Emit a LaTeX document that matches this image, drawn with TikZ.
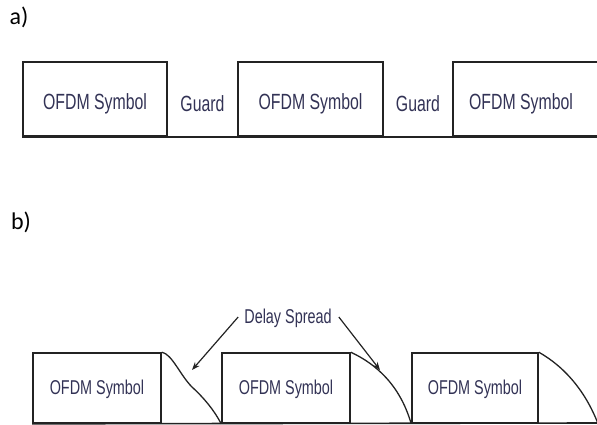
\documentclass[tikz,border=0pt]{standalone}
\usepackage{fontspec}
\setmainfont{Carlito}
\newfontfamily\narrowfont[FakeStretch=0.72]{Liberation Sans}
\usetikzlibrary{arrows.meta}
\definecolor{linec}{RGB}{35,35,35}
\definecolor{txtc}{RGB}{50,50,85}
\tikzset{
  symbox/.style={draw=linec, line width=1.6pt, inner sep=0pt},
  biglbl/.style={text=txtc, inner sep=0pt, font=\narrowfont\fontsize{22}{26}\selectfont},
  smalllbl/.style={text=txtc, inner sep=0pt, font=\narrowfont\fontsize{20}{24}\selectfont},
  partlbl/.style={inner sep=0pt, font=\fontsize{24}{28}\selectfont},
  base/.style={draw=linec, line width=1.6pt},
  tail/.style={draw=linec, line width=1.3pt},
  pointer/.style={draw=linec, line width=1.2pt, -{Stealth[length=8pt,width=6pt]}}
}
\begin{document}
\begin{tikzpicture}[x=1pt,y=-1pt]
\useasboundingbox (0,0) rectangle (597,425);
\begin{scope}
\clip (0,0) rectangle (597,425);
% part a
\node[partlbl] (la) at (19,17) {a)};
\node[symbox, minimum width=144pt, minimum height=74pt] (a1) at (95,99) {};
\node[symbox, minimum width=145pt, minimum height=74pt] (a2) at (310.5,99) {};
\node[symbox, minimum width=146pt, minimum height=74pt] (a3) at (526,99) {};
\node[biglbl] (t1) at (95,104) {OFDM Symbol};
\node[biglbl] (g1) at (202.5,104) {Guard};
\node[biglbl] (t2) at (310.5,104) {OFDM Symbol};
\node[biglbl] (g2) at (418,104) {Guard};
\node[biglbl] (t3) at (521,104) {OFDM Symbol};
\draw[base] (a1.south west) -- (a3.south east);
% part b
\node[partlbl] (lb) at (21,222) {b)};
\node[symbox, minimum width=128pt, minimum height=70pt] (b1) at (97,388) {};
\node[symbox, minimum width=128pt, minimum height=70pt] (b2) at (286,388) {};
\node[symbox, minimum width=126pt, minimum height=70pt] (b3) at (475,388) {};
\node[smalllbl] (s1) at (97,389) {OFDM Symbol};
\node[smalllbl] (s2) at (286,389) {OFDM Symbol};
\node[smalllbl] (s3) at (475,389) {OFDM Symbol};
\coordinate (bend) at (600,423);
\draw[base] (b1.south west) -- (bend);
\draw[tail] (b1.north east) .. controls (172,354) and (180,375) .. (192,387)
  .. controls (204,398) and (214,410) .. (b2.south west);
\draw[tail] (b2.north east) .. controls (376,364) and (400,385) .. (b3.south west);
\coordinate (tailend) at (601,432);
\draw[tail] (b3.north east) .. controls (565,367) and (588,393) .. (tailend);
\node[smalllbl] (ds) at (288,318) {Delay Spread};
\coordinate (tipL) at (192,370);
\coordinate (tipR) at (380,370);
\draw[pointer] (ds.west) ++(-6pt,1pt) -- (tipL);
\draw[pointer] (ds.east) ++(7pt,1pt) -- (tipR);
\end{scope}
\end{tikzpicture}
\end{document}
